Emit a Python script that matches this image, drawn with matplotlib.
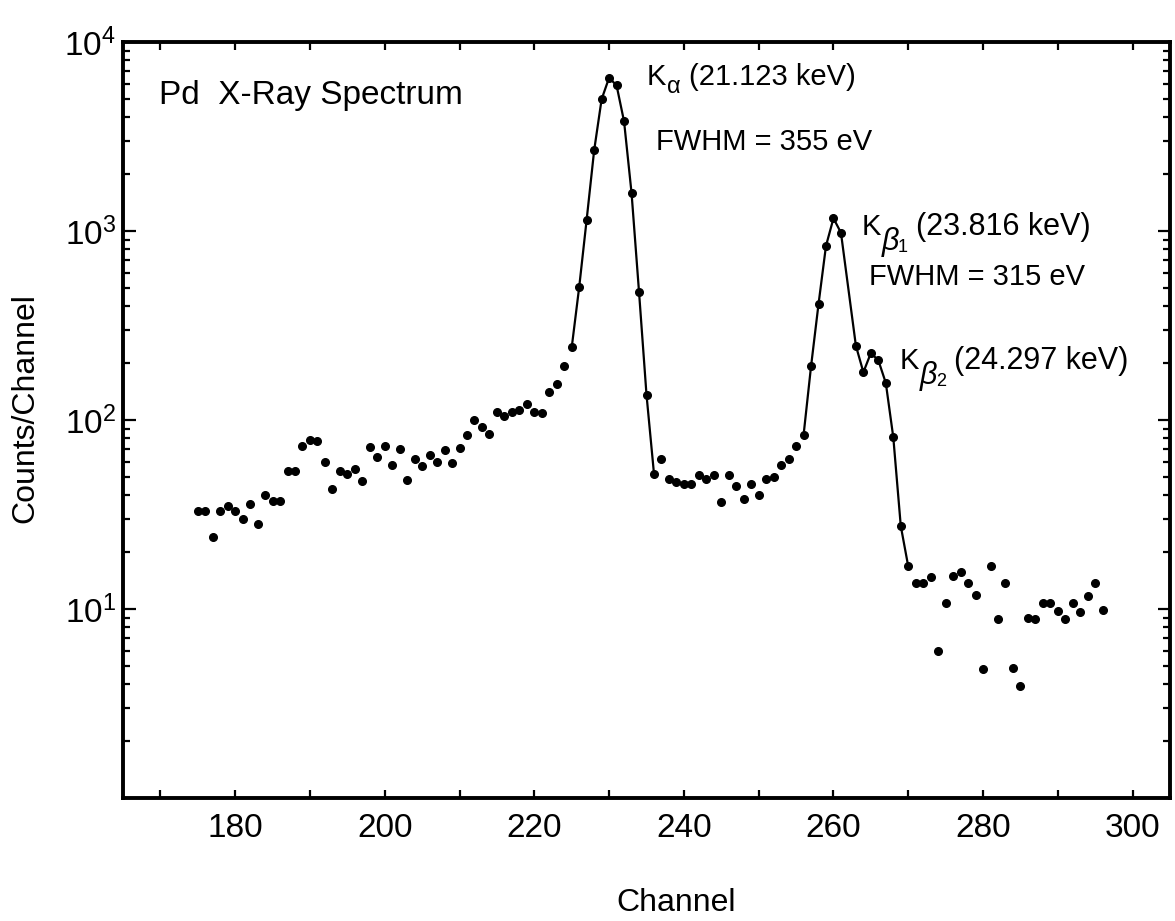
import numpy as np
import matplotlib
matplotlib.use("Agg")
import matplotlib.pyplot as plt
from matplotlib.ticker import FixedLocator, LogLocator, NullFormatter, FuncFormatter

# channel / counts (channel 262 has no dot)
channels = [175, 176, 177, 178, 179, 180, 181, 182, 183, 184,
            185, 186, 187, 188, 189, 190, 191, 192, 193, 194,
            195, 196, 197, 198, 199, 200, 201, 202, 203, 204,
            205, 206, 207, 208, 209, 210, 211, 212, 213, 214,
            215, 216, 217, 218, 219, 220, 221, 222, 223, 224,
            225, 226, 227, 228, 229, 230, 231, 232, 233, 234,
            235, 236, 237, 238, 239, 240, 241, 242, 243, 244,
            245, 246, 247, 248, 249, 250, 251, 252, 253, 254,
            255, 256, 257, 258, 259, 260, 261, 263, 264,
            265, 266, 267, 268, 269, 270, 271, 272, 273, 274,
            275, 276, 277, 278, 279, 280, 281, 282, 283, 284,
            285, 286, 287, 288, 289, 290, 291, 292, 293, 294,
            295, 296]
counts = [33, 33, 24, 33, 35, 33, 30, 36, 28, 40,
          37.5, 37.5, 54, 54, 73, 78, 77, 60, 43, 54,
          52, 55, 47.5, 72, 64, 73, 58, 70, 48, 62,
          57, 65, 60, 69, 59, 71, 83, 100, 92, 84,
          110, 105, 110, 113, 122, 110, 109, 140, 155, 192,
          242, 505, 1150, 2670, 4980, 6470, 5890, 3800, 1590, 476,
          136, 52, 62, 49, 47, 46, 46, 51, 49, 51,
          37, 51, 45, 38, 46, 40, 49, 50, 58, 62,
          73, 83, 192, 410, 834, 1167, 980, 247, 179,
          226, 207, 157, 81, 27.5, 16.8, 13.7, 13.7, 14.7, 6.0,
          10.8, 14.9, 15.6, 13.8, 11.8, 4.8, 16.8, 8.8, 13.8, 4.9,
          3.9, 9.0, 8.9, 10.8, 10.8, 9.8, 8.8, 10.8, 9.6, 11.7,
          13.8, 9.9]

# channel ranges joined by the drawn peak curves
peak_ranges = [(225, 236), (256, 270)]

plt.rcParams['font.family'] = ['Liberation Sans', 'DejaVu Sans']
plt.rcParams['mathtext.fontset'] = 'custom'
plt.rcParams['mathtext.rm'] = 'Liberation Sans'
plt.rcParams['mathtext.it'] = 'Liberation Sans:italic'
plt.rcParams['mathtext.bf'] = 'Liberation Sans:bold'

fig = plt.figure(figsize=(11.75, 9.21), dpi=100)
ax = fig.add_axes([123 / 1175, 123 / 921, 1047 / 1175, 756 / 921])

ch = np.array(channels)
c = np.array(counts)
ax.plot(ch, c, 'o', color='black', ms=5.5, ls='none')
for lo, hi in peak_ranges:
    m = (ch >= lo) & (ch <= hi)
    ax.plot(ch[m], c[m], '-', color='black', lw=1.6)

ax.set_yscale('log')
ax.set_xlim(165, 305)
ax.set_ylim(1, 1e4)
ax.set_xticks(range(180, 301, 20))
ax.set_xticks(range(170, 305, 10), minor=True)
ax.yaxis.set_major_locator(FixedLocator([10, 100, 1000, 10000]))
ax.yaxis.set_minor_locator(LogLocator(base=10, subs=range(2, 10)))
ax.yaxis.set_major_formatter(FuncFormatter(lambda v, p: r'$10^{%d}$' % round(np.log10(v))))
ax.yaxis.set_minor_formatter(NullFormatter())

ax.tick_params(which='both', direction='in', top=True, right=True, width=1.6, colors='black')
ax.tick_params(axis='x', which='both', length=6, labelsize=24, pad=11)
ax.tick_params(axis='y', which='major', length=9, labelsize=24, pad=5)
ax.tick_params(axis='y', which='minor', length=5)
for s in ax.spines.values():
    s.set_linewidth(2.8)

ax.set_xlabel('Channel', fontsize=23)
ax.xaxis.label.set_va('center')
ax.xaxis.set_label_coords((676 - 123) / 1047, (798 - 903) / 756)
ax.set_ylabel('Counts/Channel', fontsize=23)
ax.yaxis.label.set_va('center')
ax.yaxis.set_label_coords((25 - 123) / 1047, (798 - 408) / 756)

ax.text(169.8, 5200, 'Pd  X-Ray Spectrum', fontsize=24, va='center', ha='left')


def k_label(x, y, greek, sub, rest, gsize, gstyle, drop, rsize):
    # K, then a lowered greek letter, an optional small index, then the energy
    k = ax.text(x, y, 'K', fontsize=21, ha='left', va='center')
    g = ax.annotate(greek, xy=(1, 0), xycoords=k, xytext=(1, drop),
                    textcoords='offset points', fontsize=gsize, style=gstyle,
                    ha='left', va='center')
    last = g
    if sub:
        last = ax.annotate(sub, xy=(1, 0), xycoords=g, xytext=(-1, 1),
                           textcoords='offset points', fontsize=13,
                           ha='left', va='bottom')
    ax.annotate(rest, xy=(1, 0.5), xycoords=(last, k), xytext=(6, 0),
                textcoords='offset points', fontsize=rsize, ha='left', va='center')


k_label(235.0, 6500, 'α', '', '(21.123 keV)', 17, 'normal', 3, 21)
ax.text(236.3, 2950, 'FWHM = 355 eV', fontsize=21, va='center', ha='left')
k_label(263.7, 1050, 'β', '1', '(23.816 keV)', 22, 'italic', -1, 22)
ax.text(264.8, 571, 'FWHM = 315 eV', fontsize=21, va='center', ha='left')
k_label(268.8, 206, 'β', '2', '(24.297 keV)', 22, 'italic', -1, 22)

fig.savefig('out.png', dpi=100)
